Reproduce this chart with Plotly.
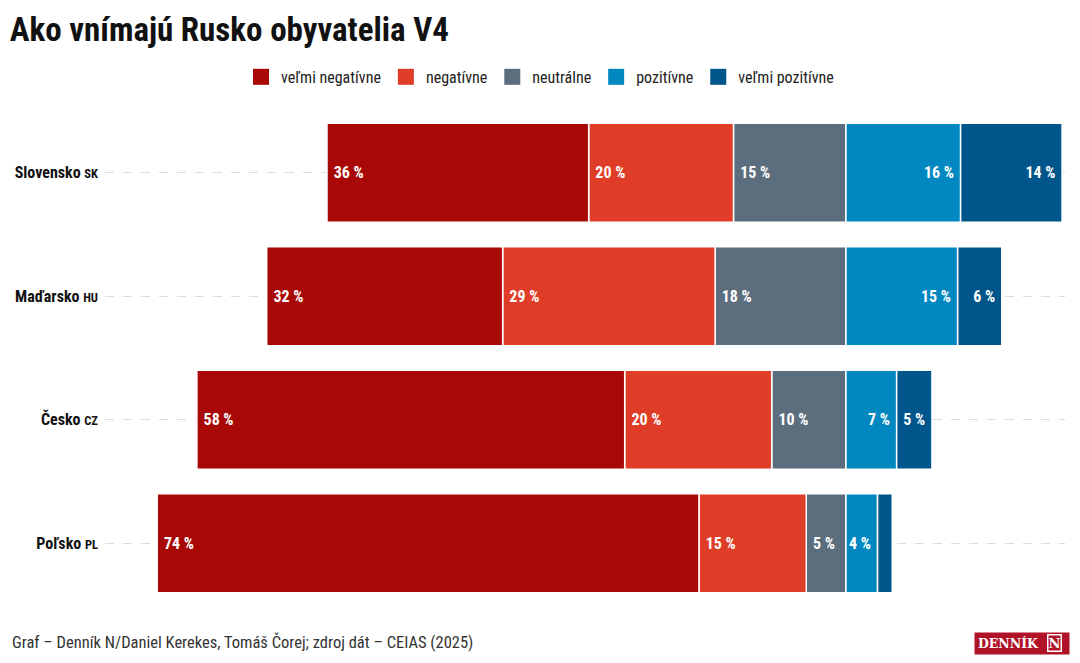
import plotly.graph_objects as go

# data (shares in %, each row sums to ~100)
countries = ["Slovensko", "Maďarsko", "Česko", "Poľsko"]
codes = ["SK", "HU", "CZ", "PL"]
very_negative = [35.6, 32.1, 58.2, 73.7]
negative = [19.7, 28.9, 20.0, 14.6]
neutral = [15.3, 17.8, 10.1, 5.4]
positive = [15.6, 15.2, 6.9, 4.3]
very_positive = [13.8, 6.0, 4.8, 2.0]

FONT = "Roboto Condensed, Liberation Sans Narrow, DejaVu Sans Condensed, Roboto, sans-serif"
NB = "\u00a0"

labels = [f"<b>{c}</b> <b><span style='font-size:12.5px'>{k}</span></b>" for c, k in zip(countries, codes)]

# left side stacks outward from the zero line: neutral first, then negative, then very negative
series = [
    ("neutrálne", neutral, "#5c6e7e", -1, 3),
    ("negatívne", negative, "#df3d27", -1, 2),
    ("veľmi negatívne", very_negative, "#a80806", -1, 1),
    ("pozitívne", positive, "#0288c0", 1, 4),
    ("veľmi pozitívne", very_positive, "#00558a", 1, 5),
]

fig = go.Figure()
for name, vals, color, sign, rank in series:
    if sign < 0:
        txt = [f"<b>{NB}{round(v)} %</b>" for v in vals]
    else:
        txt = [f"<b>{round(v)} %{NB}</b>" for v in vals]
    fig.add_trace(go.Bar(
        y=labels, x=[sign * v for v in vals], orientation="h",
        name=name, showlegend=False,
        marker=dict(color=color, line=dict(color="white", width=1.5)),
        text=txt,
        textposition="inside", insidetextanchor="end", textangle=0,
        textfont=dict(color="white", size=16, family=FONT),
        hovertemplate="%{y}: " + name + " " + "%{text}<extra></extra>",
    ))
    # legend swatch only
    fig.add_trace(go.Scatter(
        x=[None], y=[None], mode="markers", name=name, legendrank=rank,
        marker=dict(symbol="square", size=16, color=color),
    ))

fig.update_layout(
    barmode="relative",
    bargap=0.2,
    width=1080, height=663,
    margin=dict(l=105, r=15, t=111, b=58),
    paper_bgcolor="white", plot_bgcolor="white",
    font=dict(family=FONT, color="#111111"),
    title=dict(text="<b>Ako vnímajú Rusko obyvatelia V4</b>", x=0.009, xanchor="left",
               y=0.955, yanchor="middle", font=dict(size=33, color="#111111", family=FONT)),
    legend=dict(orientation="h", x=0.5, xanchor="center", xref="container",
                y=0.884, yanchor="middle", yref="container", itemsizing="trace",
                font=dict(size=16, color="#222222"), traceorder="normal"),
    uniformtext=dict(minsize=12, mode="hide"),
    showlegend=True,
)
fig.update_xaxes(range=[-100.8, 29.8], visible=False, fixedrange=True)
fig.update_yaxes(autorange="reversed", showgrid=True, griddash="dash", gridcolor="#dcdcdc",
                 gridwidth=1, tickfont=dict(size=16, color="#111111"), ticks="",
                 ticklabelstandoff=6, fixedrange=True)

fig.add_annotation(text="Graf – Denník N/Daniel Kerekes, Tomáš Čorej; zdroj dát – CEIAS (2025)",
                   xref="paper", yref="paper", x=-0.099, y=-0.075, xanchor="left", yanchor="middle",
                   showarrow=False, font=dict(size=16.5, color="#333333", family=FONT))
fig.add_annotation(text="<b>DENNÍK</b>" + NB * 7,
                   xref="paper", yref="paper", x=1.005, y=-0.077, xanchor="right", yanchor="middle",
                   showarrow=False, bgcolor="#b01328", borderpad=3,
                   font=dict(size=12.5, color="white", family="DejaVu Serif, Liberation Serif, serif"))
fig.add_annotation(text="<b>N</b>",
                   xref="paper", yref="paper", x=0.997, y=-0.077, xanchor="right", yanchor="middle",
                   showarrow=False, bgcolor="#b01328", bordercolor="white", borderwidth=1.5, borderpad=0,
                   font=dict(size=13, color="white", family="DejaVu Serif, Liberation Serif, serif"))

fig.write_html("out.html", config={"displayModeBar": False},
               post_script="document.body.style.margin='0';")
